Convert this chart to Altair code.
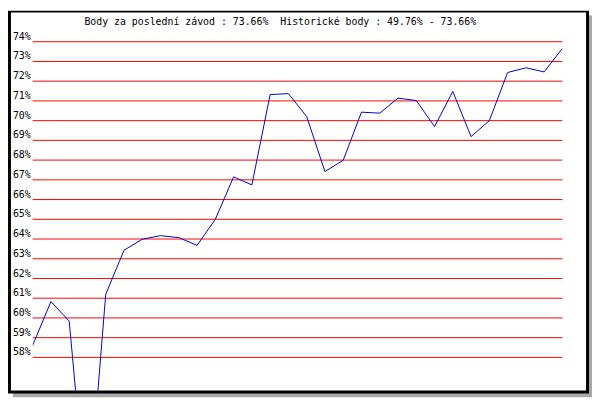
import altair as alt
import pandas as pd

# ---- data ----
race_index = list(range(30))
points_pct = [58.61, 60.83, 59.84, 49.76, 61.20, 63.43, 63.99, 64.17, 64.07, 63.68,
              65.00, 67.15, 66.74, 71.32, 71.37, 70.21, 67.42, 67.99, 70.43, 70.38,
              71.14, 71.02, 69.70, 71.48, 69.19, 70.00, 72.44, 72.68, 72.47, 73.66]
grid_pct = list(range(58, 75))
grid_labels = [f"{v}%" for v in grid_pct]
title_text = "Body za poslední závod : 73.66%\u00a0\u00a0Historické body : 49.76% - 73.66%"

FONT = "DejaVu Sans Mono"
W, H = 537, 354

line_df = pd.DataFrame({"i": race_index, "v": points_pct})
grid_df = pd.DataFrame({"pct": grid_pct, "label": grid_labels})
one = pd.DataFrame({"k": [0]})
title_df = pd.DataFrame({"t": [title_text]})

# 20 px per percent, 74% falls on a half pixel so 1px rules are crisp
yscale = alt.Scale(domain=[74.025 - H / 20.0, 74.025], nice=False, zero=False)
xscale = alt.Scale(domain=[0, 29], nice=False, zero=False)

shadow = alt.Chart(one).mark_rect(color="#a8a8a8", clip=False).encode(
    x=alt.value(-20), x2=alt.value(567), y=alt.value(-26), y2=alt.value(361))
border = alt.Chart(one).mark_rect(color="#000000", clip=False).encode(
    x=alt.value(-25), x2=alt.value(564), y=alt.value(-31), y2=alt.value(357))
inner = alt.Chart(one).mark_rect(color="#ffffff", clip=False).encode(
    x=alt.value(-22), x2=alt.value(561), y=alt.value(-29), y2=alt.value(354))

grid = alt.Chart(grid_df).mark_rule(color="#ff0000", strokeWidth=1).encode(
    y=alt.Y("pct:Q", scale=yscale, axis=None))

labels = alt.Chart(grid_df).mark_text(
    font=FONT, fontSize=10, color="#000000", align="right", baseline="alphabetic", dy=-2
).encode(
    x=alt.value(-2),
    y=alt.Y("pct:Q", scale=yscale, axis=None),
    text="label:N")

line = alt.Chart(line_df).mark_line(color="#0000d0", strokeWidth=1, clip=True).encode(
    x=alt.X("i:Q", scale=xscale, axis=None),
    y=alt.Y("v:Q", scale=yscale, axis=None))

title = alt.Chart(title_df).mark_text(
    font=FONT, fontSize=10, color="#000000", align="center", baseline="alphabetic"
).encode(x=alt.value(251), y=alt.value(-16), text="t:N")

chart = alt.layer(shadow, border, inner, grid, labels, line, title).properties(
    width=W, height=H,
    autosize=alt.AutoSizeParams(type="none"),
    padding={"left": 25, "top": 31, "right": 30, "bottom": 7},
    background="#ffffff",
).configure_view(stroke=None)

chart.save("out.html", embed_options={"renderer": "svg", "actions": False})
